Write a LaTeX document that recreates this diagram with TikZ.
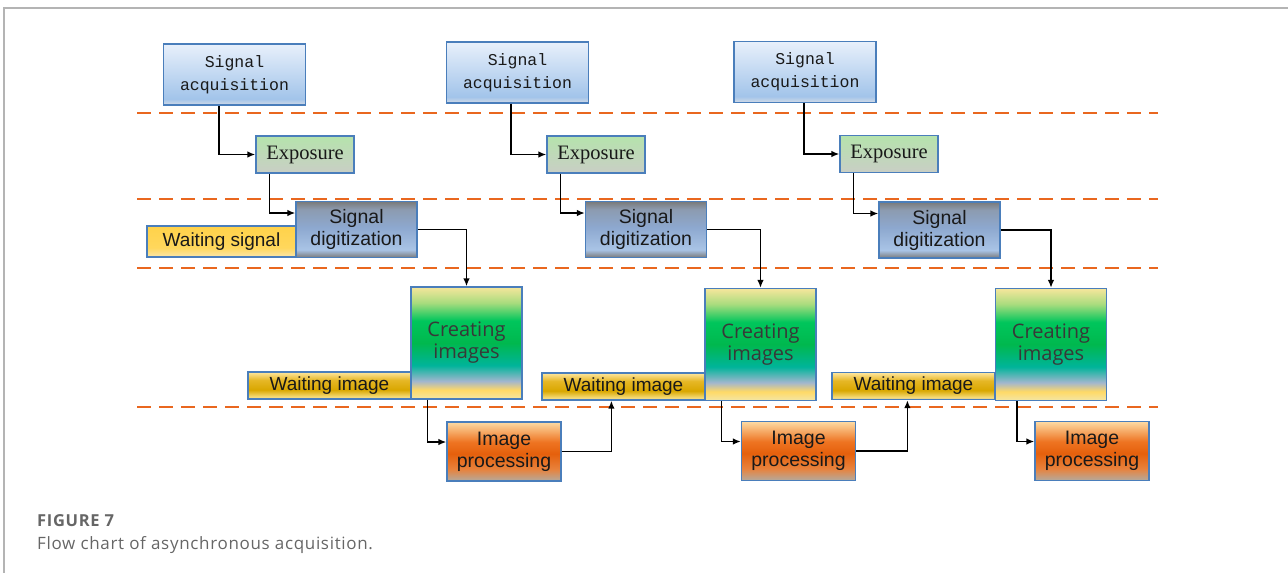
\documentclass[tikz,border=0pt]{standalone}
\usepackage{fontspec}
\setmainfont{Liberation Sans}
\newfontfamily\acqfont{Liberation Mono}
\newfontfamily\expfont{Liberation Serif}
\newfontfamily\imgfont{Open Sans}
\newfontfamily\capfont[LetterSpace=4]{Open Sans}
\usetikzlibrary{arrows.meta}

\definecolor{boxblue}{HTML}{4A7EBB}
\definecolor{dashorange}{HTML}{E9671F}
\definecolor{framegray}{HTML}{B4B4B4}
\definecolor{capgray}{HTML}{666666}
% signal acquisition
\definecolor{satop}{HTML}{E8F0FB}
\definecolor{samid}{HTML}{A2C4EA}
\definecolor{sabot}{HTML}{D4DBE6}
% exposure
\definecolor{exptop}{HTML}{B5E3AC}
\definecolor{expbot}{HTML}{C9CEC5}
% signal digitization
\definecolor{sdgray}{HTML}{7A7A7A}
\definecolor{sdmid}{HTML}{8C9BB0}
\definecolor{sdblue}{HTML}{8DA8CF}
\definecolor{sdlight}{HTML}{A9C4E6}
% waiting signal
\definecolor{wstop}{HTML}{FFD24A}
\definecolor{wsmid}{HTML}{FFD75C}
\definecolor{wslow}{HTML}{FBE39B}
\definecolor{wsbot}{HTML}{A6AEC0}
% waiting image
\definecolor{witop}{HTML}{FEE7A0}
\definecolor{wiup}{HTML}{E6B726}
\definecolor{wimid}{HTML}{D9A700}
\definecolor{wilow}{HTML}{F6DC7A}
\definecolor{wibot}{HTML}{C9C3B0}
% creating images
\definecolor{citop}{HTML}{F6E69C}
\definecolor{cilime}{HTML}{A9DC7E}
\definecolor{cilg}{HTML}{00C65C}
\definecolor{cigreen}{HTML}{00B84E}
\definecolor{citeal}{HTML}{00B49A}
\definecolor{cigb}{HTML}{A2B6CE}
\definecolor{ciyel}{HTML}{FFD966}
\definecolor{cibot}{HTML}{F3E6A6}
% image processing
\definecolor{iptop}{HTML}{FDDBA4}
\definecolor{ipmidb}{HTML}{EE7422}
\definecolor{ipmid}{HTML}{E5600C}
\definecolor{iplow}{HTML}{E8823C}
\definecolor{ipbot}{HTML}{B3AA9E}

\pgfdeclareverticalshading{sashade}{100bp}{color(0bp)=(sabot); color(25bp)=(sabot); color(30bp)=(samid); color(75bp)=(satop); color(100bp)=(satop)}
\pgfdeclareverticalshading{expshade}{100bp}{color(0bp)=(expbot); color(25bp)=(expbot); color(75bp)=(exptop); color(100bp)=(exptop)}
\pgfdeclareverticalshading{sdshade}{100bp}{color(0bp)=(sdgray); color(25bp)=(sdgray); color(32bp)=(sdlight); color(52bp)=(sdblue); color(68bp)=(sdmid); color(75bp)=(sdgray); color(100bp)=(sdgray)}
\pgfdeclareverticalshading{wsshade}{100bp}{color(0bp)=(wsbot); color(25bp)=(wsbot); color(28bp)=(wslow); color(40bp)=(wsmid); color(75bp)=(wstop); color(100bp)=(wstop)}
\pgfdeclareverticalshading{wishade}{100bp}{color(0bp)=(wibot); color(25bp)=(wibot); color(29bp)=(wilow); color(42bp)=(wimid); color(60bp)=(wiup); color(75bp)=(witop); color(100bp)=(witop)}
\pgfdeclareverticalshading{cishade}{100bp}{color(0bp)=(cibot); color(25bp)=(cibot); color(29bp)=(ciyel); color(33bp)=(cigb); color(40bp)=(citeal); color(50bp)=(cigreen); color(60bp)=(cilg); color(68bp)=(cilime); color(75bp)=(citop); color(100bp)=(citop)}
\pgfdeclareverticalshading{ipshade}{100bp}{color(0bp)=(ipbot); color(25bp)=(ipbot); color(35bp)=(iplow); color(48bp)=(ipmid); color(58bp)=(ipmidb); color(75bp)=(iptop); color(100bp)=(iptop)}

\begin{document}
\begin{tikzpicture}[x=1pt,y=-1pt,
    box/.style={draw=boxblue, line width=1.2pt, inner sep=0pt, align=center, text=black!90, shade},
    acq/.style={box, shading=sashade, minimum width=142pt, minimum height=61pt, font=\acqfont\fontsize{16.5}{23}\selectfont},
    expo/.style={box, shading=expshade, minimum width=98pt, minimum height=37pt, font=\expfont\fontsize{20.5}{22}\selectfont},
    digi/.style={box, shading=sdshade, minimum width=121pt, minimum height=56pt, font=\fontsize{19.5}{22}\selectfont},
    waitsig/.style={box, shading=wsshade, minimum width=149pt, minimum height=31pt, font=\fontsize{19}{22}\selectfont},
    waitimg/.style={box, shading=wishade, minimum width=163pt, minimum height=27pt, font=\fontsize{19}{22}\selectfont},
    create/.style={box, shading=cishade, minimum width=111pt, minimum height=112pt, text=black!78, font=\imgfont\fontsize{20}{22}\selectfont},
    proc/.style={box, shading=ipshade, minimum width=114pt, minimum height=59pt, font=\fontsize{19.5}{22}\selectfont},
    arr/.style={-{Latex[length=8pt,width=6.5pt]}, line width=1.6pt, black},
    dashline/.style={draw=dashorange, line width=1.8pt, dash pattern=on 14pt off 8pt}]

  \useasboundingbox (0,0) rectangle (1288,573);
  \draw[framegray, line width=1.5pt] (4,573) -- (4,8) -- (1288,8);

  % stage borders
  \foreach \y in {113, 199, 268, 407}{
    \draw[dashline] (137,\y) -- (1158,\y);
  }

  % column 1
  \node[acq] (acq1) at (234.5,74.5) {Signal\\acquisition};
  \node[expo] (exp1) at (305,154.5) {Exposure};
  \node[waitsig] (ws1) at (221.5,241.5) {Waiting signal};
  \node[digi] (dig1) at (356.5,229.5) {Signal\\digitization};
  \node[waitimg] (wi1) at (329.5,385.5) {Waiting image};
  \node[create] (ci1) at (466.5,343) {Creating\\images};
  \node[proc] (ip1) at (504,451.5) {Image\\processing};

  % column 2
  \node[acq] (acq2) at (517.5,72.5) {Signal\\acquisition};
  \node[expo] (exp2) at (596,154.5) {Exposure};
  \node[digi] (dig2) at (646,229.5) {Signal\\digitization};
  \node[waitimg] (wi2) at (623.5,386.5) {Waiting image};
  \node[create] (ci2) at (760.5,344.5) {Creating\\images};
  \node[proc] (ip2) at (798.5,451) {Image\\processing};

  % column 3
  \node[acq] (acq3) at (805,72) {Signal\\acquisition};
  \node[expo] (exp3) at (889,154) {Exposure};
  \node[digi] (dig3) at (939.5,230) {Signal\\digitization};
  \node[waitimg] (wi3) at (913.5,386) {Waiting image};
  \node[create] (ci3) at (1051,344.5) {Creating\\images};
  \node[proc] (ip3) at (1092,451) {Image\\processing};

  % flow
  \draw[arr] ([xshift=-15.5pt]acq1.south) |- (exp1.west);
  \draw[arr] ([xshift=-6.5pt]acq2.south) |- (exp2.west);
  \draw[arr] ([xshift=-1pt]acq3.south) |- (exp3.west);
  \foreach \i in {1,2,3}{
    \draw[arr] ([xshift=14pt]exp\i.south west) |- ([yshift=16.5pt]dig\i.west);
    \draw[arr] (dig\i.east) -| (ci\i.north);
  }
  \draw[arr] ([xshift=17pt]ci1.south west) |- ([yshift=9.5pt]ip1.west);
  \draw[arr] ([xshift=17pt]ci2.south west) |- ([yshift=9.5pt]ip2.west);
  \draw[arr] ([xshift=22pt]ci3.south west) |- ([yshift=9.5pt]ip3.west);
  \draw[arr] (ip1.east) -| ([xshift=70pt]wi2.south west);
  \draw[arr] (ip2.east) -| ([xshift=76pt]wi3.south west);

  % caption
  \node[anchor=base west, inner sep=0pt, text=capgray, font=\capfont\bfseries\fontsize{16.5}{19}\selectfont] (fig) at (37,526) {FIGURE 7};
  \node[anchor=base west, inner sep=0pt, text=capgray, font=\capfont\fontsize{17}{20}\selectfont] (cap) at (37,549) {Flow chart of asynchronous acquisition.};
\end{tikzpicture}
\end{document}
